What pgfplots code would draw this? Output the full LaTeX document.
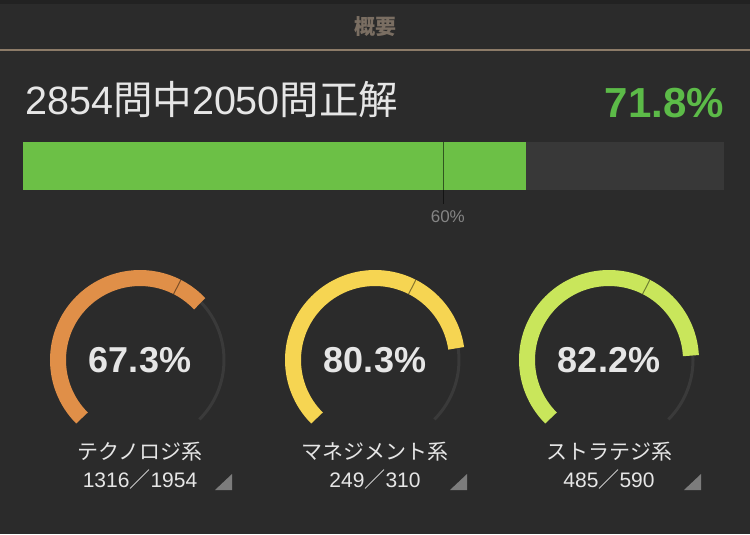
\documentclass[border=0pt]{standalone}
\usepackage{pgfplots}
\pgfplotsset{compat=1.18}
\usepackage{fontspec}
\setmainfont{Liberation Sans}
\newfontfamily\jp{Noto Sans CJK JP}
\definecolor{bg}{HTML}{2B2B2B}
\definecolor{topbg}{HTML}{222222}
\definecolor{rulec}{HTML}{8C7B68}
\definecolor{titlec}{HTML}{7A6E62}
\definecolor{txt}{HTML}{E6E6E6}
\definecolor{barG}{HTML}{6CC046}
\definecolor{barBg}{HTML}{383838}
\definecolor{pctG}{HTML}{5CBB48}
\definecolor{track}{HTML}{3A3A3A}
\definecolor{gOrange}{HTML}{E08F48}
\definecolor{gYellow}{HTML}{F6D552}
\definecolor{gLime}{HTML}{C9E65B}
\definecolor{tri}{HTML}{7C7C7C}
\definecolor{small}{HTML}{858585}
% gauge: #1 centre x, #2 percent, #3 colour, #4 label, #5 correct, #6 total
\newcommand\gauge[6]{%
  \draw[track, line width=3bp] (axis cs:#1,360) ++({225-2.7*#2}:84bp) arc[start angle={225-2.7*#2}, end angle=-45, radius=84bp];
  \draw[#3, line width=16bp] (axis cs:#1,360) ++(225:82bp) arc[start angle=225, end angle={225-2.7*#2}, radius=82bp];
  \draw[black, opacity=0.45, line width=1bp] (axis cs:#1,360) ++(63:74bp) -- ++(63:16bp);
  \node[anchor=base, text=txt, font=\fontsize{36bp}{40bp}\selectfont\bfseries] at (axis cs:#1,372.5) {#2\%};
  \node[anchor=base, text=txt, font=\fontsize{21bp}{24bp}\selectfont\jp] at (axis cs:#1,459) {#4};
  \node[anchor=base, text=txt, font=\fontsize{21bp}{24bp}\selectfont] at (axis cs:#1,487.5) {#5{\jp ／}#6};
  \fill[tri] (axis cs:#1+92,474) -- (axis cs:#1+92,490) -- (axis cs:#1+75,490) -- cycle;
}
\begin{document}
\begin{tikzpicture}
\begin{axis}[name=main, at={(0,0)}, anchor=south west, scale only axis,
  width=750bp, height=534bp, xmin=0, xmax=750, ymin=0, ymax=534,
  y dir=reverse, hide axis, clip=false]
  \fill[bg] (axis cs:0,0) rectangle (axis cs:750,534);
  \fill[topbg] (axis cs:0,0) rectangle (axis cs:750,4);
  \fill[rulec] (axis cs:0,49) rectangle (axis cs:750,51.5);
  \node[text=titlec, font=\fontsize{21bp}{24bp}\selectfont\jp\bfseries] at (axis cs:375,27) {概要};
  \node[anchor=base west, inner sep=0pt, text=txt, font=\fontsize{39.5bp}{44bp}\selectfont] at (axis cs:25,114.5) {2854{\jp 問中}2050{\jp 問正解}};
  \node[anchor=base east, inner sep=0pt, text=pctG, font=\fontsize{42bp}{46bp}\selectfont\bfseries] at (axis cs:724,117.5) {71.8\%};
  \gauge{140}{67.3}{gOrange}{テクノロジ系}{1316}{1954}
  \gauge{375}{80.3}{gYellow}{マネジメント系}{249}{310}
  \gauge{609}{82.2}{gLime}{ストラテジ系}{485}{590}
\end{axis}
\begin{axis}[at={(23bp,344bp)}, anchor=south west, scale only axis,
  width=701bp, height=48bp, xmin=0, xmax=100, ymin=-0.5, ymax=0.5,
  hide axis, clip=false, xbar stacked, bar width=48bp]
  \addplot[fill=barG, draw=none] coordinates {(71.8,0)};
  \addplot[fill=barBg, draw=none] coordinates {(28.2,0)};
\end{axis}
\begin{axis}[at={(23bp,344bp)}, anchor=south west, scale only axis,
  width=701bp, height=48bp, xmin=0, xmax=100, ymin=-0.5, ymax=0.5,
  hide axis, clip=false]
  \addplot[black, opacity=0.55, line width=1bp, no marks] coordinates {(60,0.5) (60,-0.79)};
  \node[text=small, font=\fontsize{17bp}{20bp}\selectfont] at (axis cs:60.6,-1.06) {60\%};
\end{axis}
\end{tikzpicture}
\end{document}
